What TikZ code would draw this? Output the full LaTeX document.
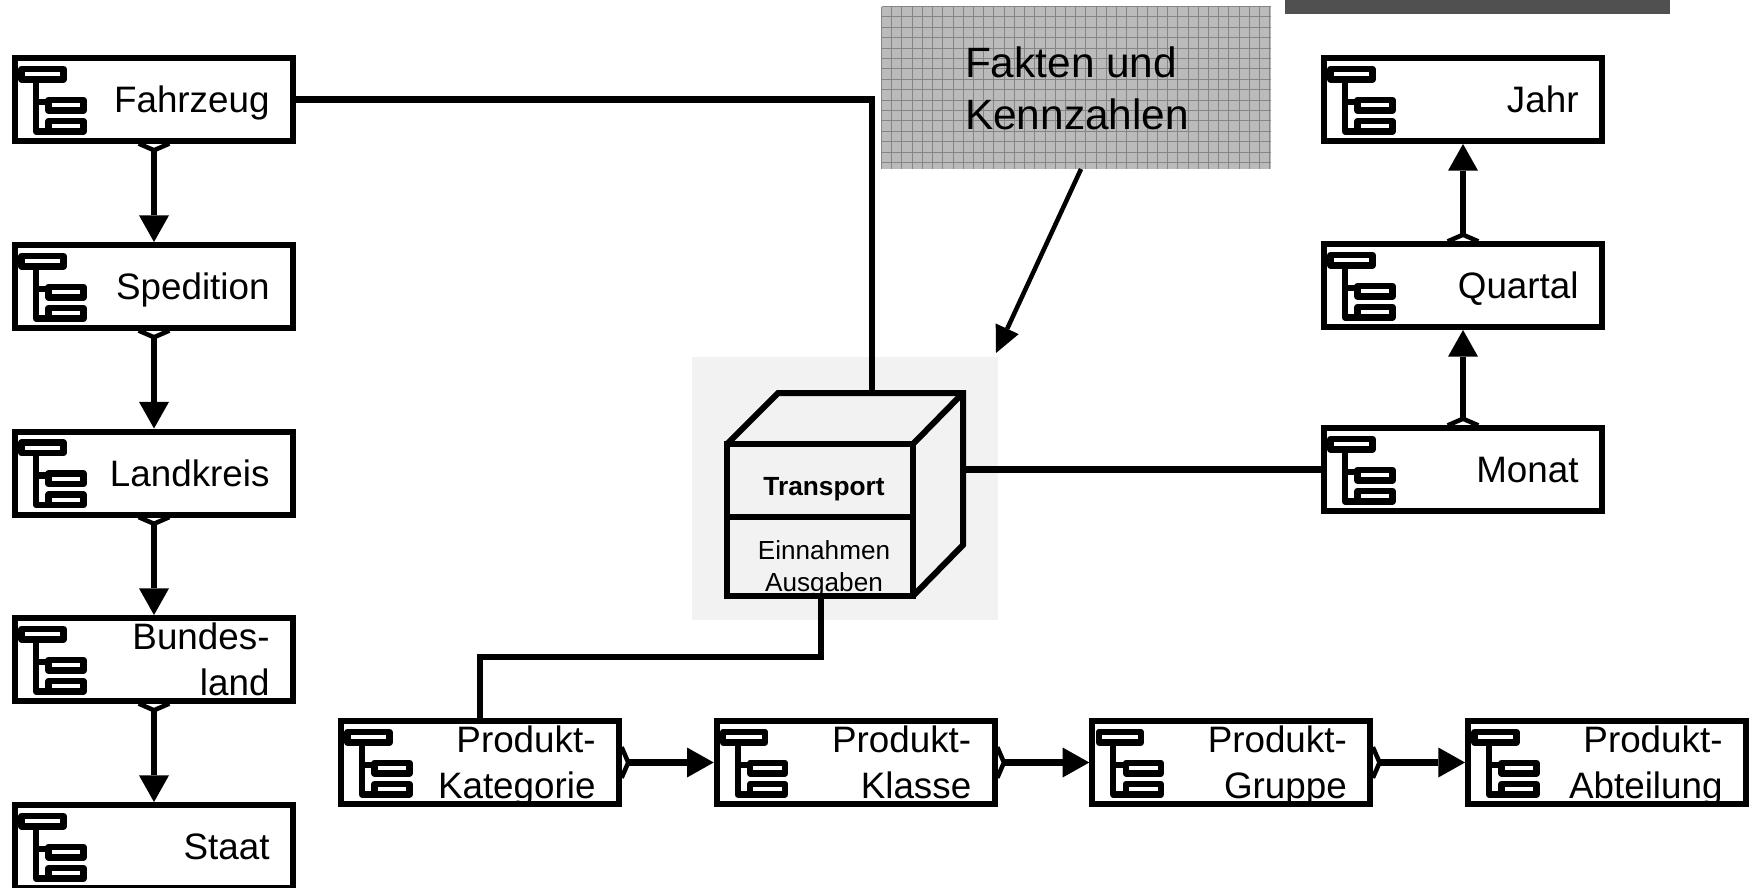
\documentclass[tikz,border=0pt]{standalone}
\usepackage{fontspec}
\setmainfont{Liberation Sans}
\usepackage{tikz}
\usetikzlibrary{arrows.meta, calc}

\definecolor{kastengrau}{HTML}{BBBBBB}
\definecolor{rastergrau}{HTML}{858585}
\definecolor{balkengrau}{HTML}{505050}
\definecolor{wuerfelgrau}{HTML}{F2F2F2}

\tikzset{
    dimbox/.style={draw=black, fill=white, line width=4.5pt, inner ysep=-3pt, inner xsep=17.6pt,
        minimum height=62.25pt, text width=173.3pt, align=right,
        font=\fontsize{27.6}{34}\selectfont,
        execute at begin node={\rule{0pt}{25.6pt}},
        execute at end node={\rule[-6pt]{0pt}{6pt}}},
    hierlink/.style={draw=black, line width=4.6pt,
        {Straight Barb[reversed, length=5pt, width=23pt, line width=3.4pt, sep=-2pt]}-{Triangle[length=20pt, width=22.5pt, line width=0pt]}},
    cubelink/.style={draw=black, line width=4.6pt},
    cubeedge/.style={draw=black, line width=4.5pt, line join=miter},
    iconedge/.style={draw=black, line width=4.6pt, line join=round}
}

\def\dimicon#1{%
    \begin{scope}[shift={(#1.north west)}]
        \draw[iconedge] (9.5,14) rectangle (51.5,24.5);
        \draw[iconedge] (36.5,45) rectangle (71.5,55.5);
        \draw[iconedge] (36.5,66) rectangle (71.5,76.5);
        \draw[iconedge] (24,24.5) -- (24,76.5) -- (36.5,76.5);
        \draw[iconedge] (24,47) -- (36.5,47);
    \end{scope}
}

\begin{document}
\begin{tikzpicture}[x=0.75pt, y=-0.75pt]
    \useasboundingbox (0,0) rectangle (1753,888);

    % dark bar
    \fill[balkengrau] (1285,0) rectangle (1670,14);

    % facts box
    \node (fakten) [fill=kastengrau, minimum width=291.75pt, minimum height=121.5pt,
        inner sep=0pt, outer sep=0pt] at (1076.5,88) {};

    % draw vertical lines
    \foreach \x in {0,...,38}
    {
        \draw[rastergrau, line width=0.75pt] (881.5 + \x * 10.22, 7) -- (881.5 + \x * 10.22, 169);
    }

    % draw horizontal lines
    \foreach \y in {0,...,15}
    {
        \draw[rastergrau, line width=0.75pt] (882, 6.5 + \y * 10.4) -- (1271, 6.5 + \y * 10.4);
    }

    \node (faktentext) [align=left, inner sep=0pt, font=\fontsize{31.8}{39}\selectfont]
        at (1077,88.5) {Fakten und\\Kennzahlen};

    % cube background
    \node (wuerfel) [fill=wuerfelgrau, minimum width=229.5pt, minimum height=197.25pt,
        inner sep=0pt, outer sep=0pt] at (845,488.5) {};

    \coordinate (FVO) at (727,444);
    \coordinate (FVR) at (913,444);
    \coordinate (FUL) at (727,596);
    \coordinate (FUR) at (913,596);
    \coordinate (FML) at (727,517);
    \coordinate (FMR) at (913,517);
    \coordinate (HOL) at (778,393);
    \coordinate (HOR) at (963,393);
    \coordinate (HUR) at (963,545);

    \coordinate (cubetop) at (872,393);
    \coordinate (cuberight) at (963,469.5);
    \coordinate (cubebottom) at (821,596);
    \coordinate (knick) at (821,657);
    \coordinate (spitze) at (996,353);

    % cube
    \draw[cubeedge] (FVO) rectangle (FUR);
    \draw[cubeedge] (FML) -- (FMR);
    \draw[cubeedge] (FVO) -- (HOL) -- (HOR) -- (HUR) -- (FUR);
    \draw[cubeedge] (FVR) -- (HOR);

    \node (transport) [inner sep=0pt, font=\fontsize{19.7}{24}\selectfont\bfseries]
        at (824,489.5) {Transport};
    \node (kennzahlen) [inner sep=0pt, align=center, font=\fontsize{19.6}{24}\selectfont]
        at (824,569) {Einnahmen\\Ausgaben};

    % dimension boxes
    \foreach \name/\xpos/\ypos/\text in {
        fahrzeug/154/99.5/{Fahrzeug},
        spedition/154/286.5/{Spedition},
        landkreis/154/473/{Landkreis},
        bundesland/154/659.5/{Bundes-\\land},
        staat/154/846.5/{Staat},
        jahr/1463/99.5/{Jahr},
        quartal/1463/285.5/{Quartal},
        monat/1463/469.5/{Monat},
        kategorie/480/762.5/{Produkt-\\Kategorie},
        klasse/855.7/762.5/{Produkt-\\Klasse},
        gruppe/1231.3/762.5/{Produkt-\\Gruppe},
        abteilung/1607/762.5/{Produkt-\\Abteilung}}
    {
        \node[dimbox] (\name) at (\xpos,\ypos) {\text};
        \dimicon{\name}
    }

    % hierarchy links
    \draw[hierlink] (fahrzeug.south) -- (spedition.north);
    \draw[hierlink] (spedition.south) -- (landkreis.north);
    \draw[hierlink] (landkreis.south) -- (bundesland.north);
    \draw[hierlink] (bundesland.south) -- (staat.north);
    \draw[hierlink] (monat.north) -- (quartal.south);
    \draw[hierlink] (quartal.north) -- (jahr.south);
    \draw[hierlink] (kategorie.east) -- (klasse.west);
    \draw[hierlink] (klasse.east) -- (gruppe.west);
    \draw[hierlink] (gruppe.east) -- (abteilung.west);

    % cube links
    \draw[cubelink] (fahrzeug.east) -| (cubetop);
    \draw[cubelink] (monat.west) -- (cuberight);
    \draw[cubelink] (kategorie.north) |- (knick) -- (cubebottom);

    % facts arrow
    \draw[draw=black, line width=3.4pt, -{Triangle[length=20pt, width=19pt, line width=0pt]}]
        ([xshift=3.4pt]fakten.south) -- (spitze);
\end{tikzpicture}
\end{document}
